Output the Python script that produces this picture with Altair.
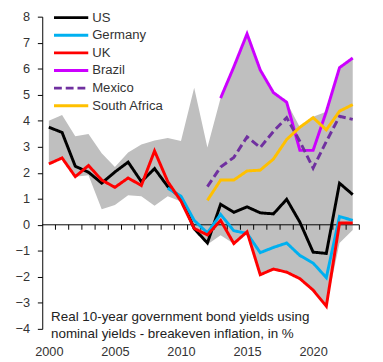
import altair as alt
import pandas as pd

years = list(range(2000, 2024))

us = [3.75, 3.55, 2.25, 2.02, 1.60, 2.03, 2.41, 1.66, 2.16, 1.47, 1.04, -0.15,
      -0.70, 0.79, 0.48, 0.69, 0.46, 0.42, 0.98, 0.10, -1.05, -1.10, 1.60, 1.16]
germany = [None] * 9 + [1.41, 1.10, 0.17, -0.31, 0.40, -0.23, -0.33, -1.07, -0.87,
                        -0.70, -1.18, -1.47, -2.03, 0.32, 0.17]
uk = [2.34, 2.57, 1.85, 2.28, 1.72, 1.44, 1.80, 1.51, 2.84, 1.66, 0.91, -0.14,
      -0.39, 0.17, -0.72, -0.27, -1.92, -1.70, -1.82, -2.07, -2.51, -3.13, 0.07, 0.07]
brazil = [None] * 13 + [4.87, 6.07, 7.34, 5.95, 5.08, 4.71, 2.86, 2.86, 4.35, 6.04, 6.41]
mexico = [None] * 12 + [1.47, 2.22, 2.59, 3.38, 2.97, 3.59, 4.12, 3.20, 2.18, 3.20, 4.17, 4.05]
south_africa = [None] * 12 + [0.94, 1.72, 1.72, 2.07, 2.10, 2.53, 3.28, 3.75, 4.12, 3.65, 4.37, 4.62]

band_high = [4.00, 4.22, 3.40, 3.49, 2.75, 2.22, 2.78, 3.09, 3.24, 3.34, 3.22, 5.27,
             2.97, 4.87, 6.07, 7.34, 5.95, 5.08, 4.71, 3.75, 4.15, 4.35, 6.04, 6.41]
band_low = [2.34, 2.56, 1.85, 1.90, 0.60, 0.76, 1.14, 1.10, 0.73, 1.10, 0.90, -0.15,
            -0.76, -0.40, -0.73, -0.30, -1.92, -1.70, -1.82, -2.07, -2.51, -3.13, -0.70, -0.20]

series_names = ["US", "Germany", "UK", "Brazil", "Mexico", "South Africa"]
series_values = [us, germany, uk, brazil, mexico, south_africa]
series_colors = ["#000000", "#00B0F0", "#FF0000", "#CC00FF", "#7030A0", "#FFC000"]
series_dash = [[1, 0], [1, 0], [1, 0], [1, 0], [8, 4], [1, 0]]

y_ticks = list(range(-4, 9))
x_labels = [2000, 2005, 2010, 2015, 2020]
note_lines = ["Real 10-year government bond yields using",
              "nominal yields - breakeven inflation, in %"]

FONT = "Liberation Sans"
TXT = "#333333"
W, H = 324, 319

xscale = alt.Scale(domain=[years[0] - 0.5, years[-1] + 0.5], nice=False, zero=False)
yscale = alt.Scale(domain=[y_ticks[0], y_ticks[-1]], nice=False, zero=False)

X_AXIS = alt.Axis(
    values=x_labels, format="d", domain=False, ticks=False, grid=False,
    labelPadding=17, labelFontSize=13, labelFont=FONT, labelColor=TXT,
    labelOverlap=False, title=None)
Y_AXIS = alt.Axis(
    values=y_ticks, format="d", domain=True, domainColor="black", domainWidth=1,
    ticks=True, tickColor="black", tickSize=5, tickWidth=1, grid=False,
    labelPadding=8, labelFontSize=13, labelFont=FONT, labelColor=TXT,
    labelOverlap=False, labelFlush=False, title=None)

band_df = pd.DataFrame({"year": years, "low": band_low, "high": band_high})

band = alt.Chart(band_df).mark_area(color="#BFBFBF", opacity=1).encode(
    x=alt.X("year:Q", scale=xscale, axis=X_AXIS),
    y=alt.Y("low:Q", scale=yscale, axis=Y_AXIS),
    y2="high:Q",
)

one = pd.DataFrame({"k": [0]})
zero_line = alt.Chart(one).mark_rule(color="black", strokeWidth=1).encode(
    x=alt.value(0), x2=alt.value(W),
    y=alt.YDatum(0, scale=yscale, axis=Y_AXIS),
)

tick_df = pd.DataFrame({"year": [y + 0.5 for y in years]})
ticks = alt.Chart(tick_df).mark_rule(color="black", strokeWidth=1).encode(
    x=alt.X("year:Q", scale=xscale, axis=X_AXIS),
    y=alt.YDatum(0, scale=yscale, axis=Y_AXIS),
    y2=alt.Y2Datum(-0.19),
)

lines = []
for name, vals, col, dash in zip(series_names, series_values, series_colors, series_dash):
    df = pd.DataFrame({"year": years, "value": vals}).dropna()
    lines.append(
        alt.Chart(df).mark_line(color=col, strokeWidth=3, strokeDash=dash).encode(
            x=alt.X("year:Q", scale=xscale, axis=X_AXIS),
            y=alt.Y("value:Q", scale=yscale, axis=Y_AXIS),
        )
    )

notes = []
for i, line in enumerate(note_lines):
    notes.append(
        alt.Chart(one).mark_text(
            text=line, align="left", baseline="middle",
            fontSize=13.7, font=FONT, color="#222222"
        ).encode(x=alt.value(9), y=alt.value(307 + 17.3 * i))
    )

main = alt.layer(band, zero_line, ticks, *lines, *notes)

leg_df = pd.DataFrame({"name": series_names, "row": list(range(len(series_names)))})
leg_y = alt.Y("row:Q", scale=alt.Scale(domain=[0, 5], range=[1, 91], nice=False, zero=False), axis=None)
leg_rule = alt.Chart(leg_df).mark_rule(strokeWidth=3).encode(
    x=alt.value(12), x2=alt.value(47), y=leg_y,
    color=alt.Color("name:N", scale=alt.Scale(domain=series_names, range=series_colors), legend=None),
    strokeDash=alt.StrokeDash("name:N", scale=alt.Scale(domain=series_names, range=series_dash), legend=None),
)
leg_text = alt.Chart(leg_df).mark_text(
    align="left", baseline="middle", fontSize=13.4, font=FONT, color=TXT
).encode(x=alt.value(51), y=leg_y, text="name:N")
legend = alt.layer(leg_rule, leg_text)

chart = alt.layer(main, legend).resolve_scale(y="independent").properties(
    width=W, height=H, autosize="none",
    padding={"left": 35, "top": 5, "right": 16, "bottom": 30},
    background="white",
).configure_view(stroke=None).configure_axis(labelOverlap=False)

chart.save("out.html", embed_options={"renderer": "svg", "actions": False})
